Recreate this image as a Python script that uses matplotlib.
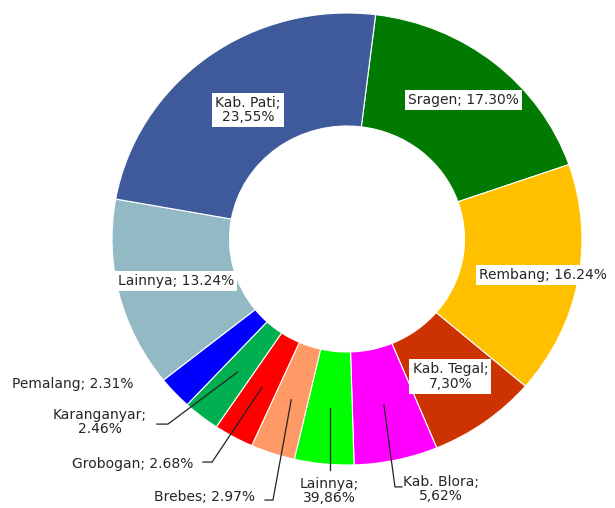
import matplotlib
matplotlib.use("Agg")
import matplotlib.pyplot as plt
import numpy as np

# Share of each region, clockwise from the top
regions = ["Sragen", "Rembang", "Kab. Tegal", "Kab. Blora", "Lainnya",
           "Brebes", "Grobogan", "Karanganyar", "Pemalang", "Lainnya", "Kab. Pati"]
values = [17.30, 16.24, 7.30, 5.62, 3.986, 2.97, 2.68, 2.46, 2.31, 13.24, 23.55]
labels = ["Sragen; 17.30%", "Rembang; 16.24%", "Kab. Tegal;\n7,30%", "Kab. Blora;\n5,62%",
          "Lainnya;\n39,86%", "Brebes; 2.97%", "Grobogan; 2.68%", "Karanganyar;\n2.46%",
          "Pemalang; 2.31%", "Lainnya; 13.24%", "Kab. Pati;\n23,55%"]
colors = ["#007A00", "#FFC000", "#CC3300", "#FF00FF", "#00FF00",
          "#FF9966", "#FF0000", "#00B050", "#0000FF", "#93BAC4", "#3F5A9A"]

plt.rcParams["font.family"] = ["DejaVu Sans"]
TXT = "#262626"

fig = plt.figure(figsize=(6.15, 5.08), dpi=100)
W, H = 615, 508
ax = fig.add_axes([112 / W, (H - 465) / H, 470 / W, 452 / H])

wedges, _ = ax.pie(values, colors=colors, startangle=83, counterclock=False,
                   radius=1.0,
                   wedgeprops=dict(width=0.5, edgecolor="white", linewidth=0.8))
ax.set_aspect("auto")
ax.set_xlim(-1, 1)
ax.set_ylim(-1, 1)
ax.axis("off")


def mid_point(w, r):
    a = np.deg2rad((w.theta1 + w.theta2) / 2)
    return r * np.cos(a), r * np.sin(a)


box = dict(boxstyle="square,pad=0.22", facecolor="white", edgecolor="none")
fs = 10

# labels placed inside their wedges
inside = {0: 0.79, 1: 0.85, 2: 0.75, 9: 0.75, 10: 0.71}
for i, r in inside.items():
    x, y = mid_point(wedges[i], r)
    ax.text(x, y, labels[i], ha="center", va="center", fontsize=fs, color=TXT,
            bbox=box, multialignment="center", linespacing=1.05)

# labels outside with leader lines: (text x, text y, ha, elbow x, elbow y, end x)
outside = {
    3: (0.40, -1.106, "center", 0.204, -1.097, 0.234),
    4: (-0.102, -1.115, "center", None, -1.022, None),
    5: (-0.391, -1.142, "right", -0.315, -1.155, -0.349),
    6: (-0.655, -0.996, "right", -0.574, -0.987, -0.613),
    7: (-1.051, -0.81, "center", -0.762, -0.819, -0.809),
}
for i, (tx, ty, ha, ex, ey, endx) in outside.items():
    sx, sy = mid_point(wedges[i], 0.75)
    if ex is None:
        ax.plot([sx, sx], [sy, ey], color="#222222", lw=0.9, clip_on=False)
        tx = sx
    else:
        ax.plot([sx, ex, endx], [sy, ey, ey], color="#222222", lw=0.9, clip_on=False)
    ax.text(tx, ty, labels[i], ha=ha, va="center", fontsize=fs, color=TXT,
            multialignment="center", linespacing=1.05, clip_on=False)

ax.text(-1.166, -0.642, labels[8], ha="center", va="center", fontsize=fs,
        color=TXT, clip_on=False)

fig.savefig("out.png", dpi=100, facecolor="white")
